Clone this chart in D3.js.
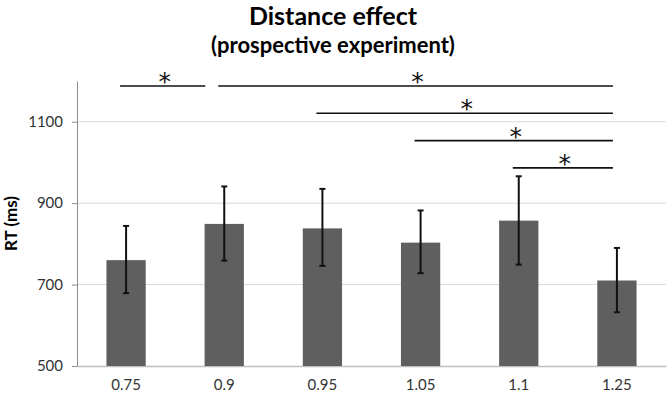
<!DOCTYPE html>
<html>
<head>
<meta charset="utf-8">
<script src="https://cdn.jsdelivr.net/npm/d3@7"></script>
<style>
  body { margin: 0; background: #fff; }
  text { font-family: Lato, "Open Sans", sans-serif; }
</style>
</head>
<body>
<div id="container"></div>
<script>
const width = 672,
  height = 399,
  margin = { top: 81, bottom: 33, left: 77, right: 6 };

// data
const categories = ["0.75", "0.9", "0.95", "1.05", "1.1", "1.25"];
const meanRT = [760, 849, 838, 803, 857, 710];
const errUpper = [844, 941, 935, 882, 966, 790];
const errLower = [679, 759, 746, 728, 749, 632];
const yTicks = [500, 700, 900, 1100];
// significant pairs: [from, to, row]
const sigPairs = [
  ["0.75", "0.9", 0],
  ["0.9", "1.25", 0],
  ["0.95", "1.25", 1],
  ["1.05", "1.25", 2],
  ["1.1", "1.25", 3]
];

const data = categories.map((c, i) => ({
  cat: c, mean: meanRT[i], hi: errUpper[i], lo: errLower[i]
}));

const svg = d3.select("#container")
  .append("svg")
  .attr("width", width)
  .attr("height", height);

// + SCALES
const xScale = d3.scaleBand()
  .domain(categories)
  .range([margin.left, width - margin.right])
  .paddingInner(0.6)
  .paddingOuter(0.3);

const yScale = d3.scaleLinear()
  .domain([500, 1200])
  .range([height - margin.bottom, margin.top]);

const cx = c => xScale(c) + xScale.bandwidth() / 2;

// gridlines
svg.append("g")
  .selectAll("line")
  .data(yTicks.slice(1))
  .join("line")
  .attr("x1", margin.left)
  .attr("x2", width - margin.right)
  .attr("y1", d => yScale(d))
  .attr("y2", d => yScale(d))
  .attr("stroke", "#d9d9d9")
  .attr("stroke-width", 1);

// + AXES
const yAxis = d3.axisLeft(yScale)
  .tickValues(yTicks)
  .tickFormat(d3.format("d"))
  .tickSize(5)
  .tickSizeOuter(0)
  .tickPadding(9);

const yAxisGroup = svg.append("g")
  .attr("transform", `translate(${margin.left}, 0)`)
  .call(yAxis);
yAxisGroup.select(".domain").attr("stroke", "#8c8c8c");
yAxisGroup.selectAll(".tick line").attr("stroke", "#8c8c8c");
yAxisGroup.selectAll(".tick text")
  .attr("fill", "#333")
  .style("font-size", "15px")
  .style("font-family", "Lato, sans-serif");

const xAxis = d3.axisBottom(xScale).tickSize(0).tickPadding(13);
const xAxisGroup = svg.append("g")
  .attr("transform", `translate(0, ${height - margin.bottom})`)
  .call(xAxis);
xAxisGroup.select(".domain").attr("stroke", "#bfbfbf").attr("stroke-width", 1.5);
xAxisGroup.selectAll(".tick text")
  .attr("fill", "#333")
  .style("font-size", "15px")
  .style("font-family", "Lato, sans-serif");

// + BARS
svg.append("g")
  .selectAll("rect")
  .data(data)
  .join("rect")
  .attr("x", d => xScale(d.cat))
  .attr("width", xScale.bandwidth())
  .attr("y", d => yScale(d.mean))
  .attr("height", d => yScale(500) - yScale(d.mean))
  .attr("fill", "#5f5f5f");

// + ERROR BARS
const err = svg.append("g").attr("stroke", "#111").attr("stroke-width", 2);
err.selectAll(".stem")
  .data(data)
  .join("line")
  .attr("x1", d => cx(d.cat)).attr("x2", d => cx(d.cat))
  .attr("y1", d => yScale(d.hi)).attr("y2", d => yScale(d.lo));
err.selectAll(".capHi")
  .data(data)
  .join("line")
  .attr("x1", d => cx(d.cat) - 3).attr("x2", d => cx(d.cat) + 3)
  .attr("y1", d => yScale(d.hi)).attr("y2", d => yScale(d.hi));
err.selectAll(".capLo")
  .data(data)
  .join("line")
  .attr("x1", d => cx(d.cat) - 3).attr("x2", d => cx(d.cat) + 3)
  .attr("y1", d => yScale(d.lo)).attr("y2", d => yScale(d.lo));

// + SIGNIFICANCE BRACKETS
const rowY = r => 86 + r * 27.3;
const sig = sigPairs.map(([a, b, row]) => {
  let x1 = cx(a) - 6;
  let x2 = cx(b) - 4;
  // shorten if another bracket on the same row starts at b
  if (sigPairs.some(p => p[0] === b && p[2] === row)) x2 = cx(b) - 19;
  return { x1, x2, y: rowY(row) };
});

const sigG = svg.append("g");
sigG.selectAll("line")
  .data(sig)
  .join("line")
  .attr("x1", d => d.x1).attr("x2", d => d.x2)
  .attr("y1", d => d.y).attr("y2", d => d.y)
  .attr("stroke", "#111")
  .attr("stroke-width", 1.6);
sigG.selectAll("text")
  .data(sig)
  .join("text")
  .attr("x", d => (d.x1 + d.x2) / 2 + 2)
  .attr("y", d => d.y + 4)
  .attr("text-anchor", "middle")
  .style("font-family", "'DejaVu Sans', sans-serif")
  .style("font-size", "25px")
  .attr("fill", "#111")
  .text("*");

// + TITLES
svg.append("text")
  .attr("x", 333)
  .attr("y", 25)
  .attr("text-anchor", "middle")
  .style("font-size", "25px")
  .style("font-weight", "bold")
  .text("Distance effect");

svg.append("text")
  .attr("x", 333)
  .attr("y", 53)
  .attr("text-anchor", "middle")
  .style("font-size", "22px")
  .style("font-weight", "bold")
  .text("(prospective experiment)");

svg.append("text")
  .attr("transform", `translate(17, ${(yScale(500) + yScale(1200)) / 2}) rotate(-90)`)
  .attr("text-anchor", "middle")
  .style("font-size", "17px")
  .style("font-weight", "bold")
  .text("RT (ms)");
</script>
</body>
</html>
